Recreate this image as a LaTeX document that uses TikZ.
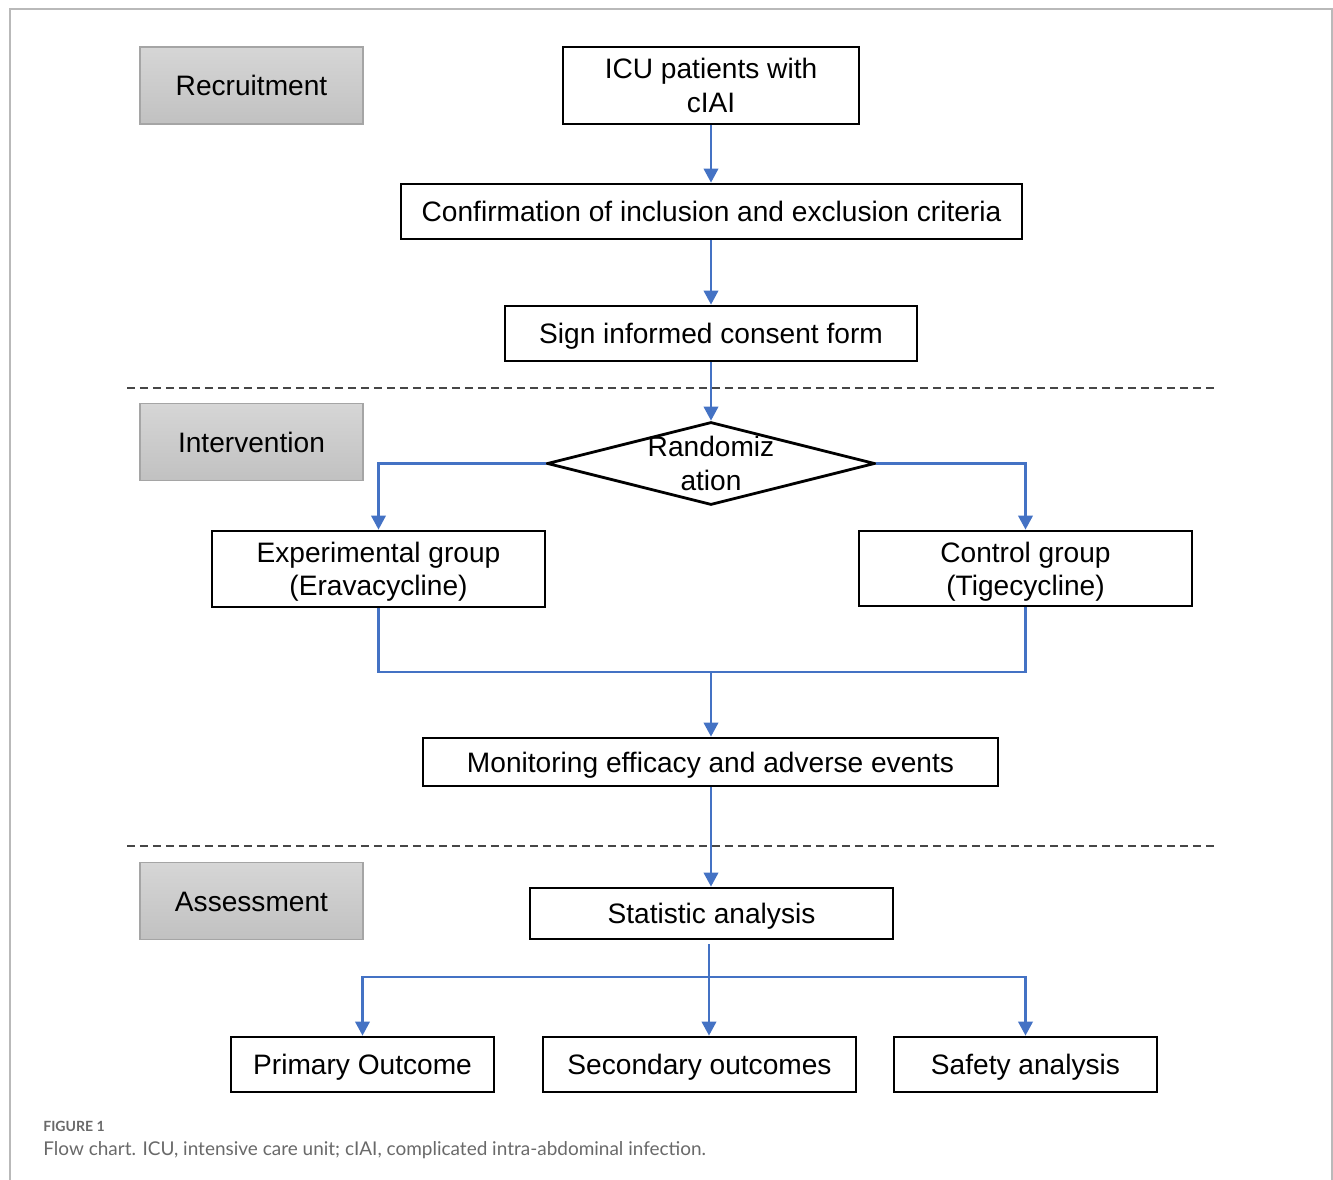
\documentclass[tikz,border=0pt]{standalone}
\usepackage{fontspec}
\setmainfont{Liberation Sans}
\newfontfamily\capfont{Lato}
\usepackage{tikz}
\usetikzlibrary{
  arrows.meta,
  positioning,
  calc,
  shapes.geometric
}
\definecolor{FlowBlue}{RGB}{68,114,196}
\definecolor{StageTop}{RGB}{214,214,214}
\definecolor{StageBottom}{RGB}{193,193,193}
\definecolor{StageEdge}{RGB}{165,165,165}
\definecolor{FrameGray}{RGB}{185,185,185}
\definecolor{CaptionGray}{RGB}{105,105,105}
\definecolor{DashGray}{RGB}{70,70,70}
\tikzset{
  stagebox/.style={
    draw=StageEdge,
    line width=0.8pt,
    top color=StageTop,
    bottom color=StageBottom,
    minimum width=4.46cm,
    minimum height=1.54cm,
    text height=11.5pt,
    text depth=0pt,
    font=\fontsize{16}{19}\selectfont
  },
  procbox/.style={
    draw=black,
    line width=1.6pt,
    fill=white,
    align=center,
    inner sep=0pt,
    font=\fontsize{16}{19}\selectfont
  },
  oneline/.style={text height=11.5pt,text depth=0pt},
  decision/.style={diamond,draw=black,line width=1.6pt,inner sep=0pt},
  flow/.style={-{Triangle[length=2.8mm,width=2.9mm]},line width=1.3pt,draw=FlowBlue},
  flowline/.style={line width=1.3pt,draw=FlowBlue},
  sepline/.style={dash pattern=on 1.6mm off 1mm,line width=0.8pt,draw=DashGray}
}

\begin{document}
\begin{tikzpicture}[x=0.02cm,y=-0.02cm]
  \useasboundingbox (0,0) rectangle (1333,1180);
  \draw[FrameGray,line width=1pt] (10,1180) -- (10,9) -- (1332,9) -- (1332,1180);

  % stage labels
  \node[stagebox] (recruit) at (251.5,85.5) {Recruitment};
  \node[stagebox] (interv) at (251.5,442) {Intervention};
  \node[stagebox] (assess) at (251.5,901) {Assessment};

  % recruitment
  \node[procbox, minimum width=5.92cm, minimum height=1.54cm] (icu) at (711,85.5) {ICU patients with\\cIAI};
  \node[procbox, oneline, minimum width=12.42cm, minimum height=1.1cm] (confirm) at (711.5,211.5) {Confirmation of inclusion and exclusion criteria};
  \node[procbox, oneline, minimum width=8.24cm, minimum height=1.1cm] (consent) at (711,333.5) {Sign informed consent form};

  \draw[sepline] (127,388) -- (1215,388);

  % intervention
  \node[decision, minimum width=6.56cm, minimum height=1.66cm] (rand) at (711,463.5) {};
  \node[font=\fontsize{16}{19}\selectfont, align=center] (randtext) at (rand.center) {Randomiz\\ation};
  \node[procbox, minimum width=6.66cm, minimum height=1.52cm] (exper) at (378.5,569) {Experimental group\\\smash{(Eravacycline)}};
  \node[procbox, minimum width=6.66cm, minimum height=1.5cm] (control) at (1025.5,568.5) {Control group\\\smash{(Tigecycline)}};
  \coordinate (join) at (711,672);
  \node[procbox, oneline, minimum width=11.5cm, minimum height=0.96cm] (monitor) at (710.5,762) {Monitoring efficacy and adverse events};

  \draw[sepline] (127,846) -- (1215,846);

  % assessment
  \node[procbox, oneline, minimum width=7.26cm, minimum height=1.02cm] (stats) at (711.5,913.5) {Statistic analysis};
  \coordinate (split) at (709,977);
  \node[procbox, oneline, minimum width=5.26cm, minimum height=1.1cm] (primary) at (362.5,1064.5) {Primary Outcome};
  \node[procbox, oneline, minimum width=6.26cm, minimum height=1.1cm] (secondary) at (699.5,1064.5) {Secondary outcomes};
  \node[procbox, oneline, minimum width=5.26cm, minimum height=1.1cm] (safety) at (1025.5,1064.5) {Safety analysis};

  \draw[flow] (icu.south) -- (confirm.north -| icu.south);
  \draw[flow] (confirm.south -| icu.south) -- (consent.north);
  \draw[flow] (consent.south) -- (rand.north);
  \draw[flow] (rand.west) -| (exper.north);
  \draw[flow] (rand.east) -| (control.north);
  \draw[flowline] (exper.south) |- (join);
  \draw[flowline] (control.south) |- (join);
  \draw[flow] (join) -- (monitor.north -| join);
  \draw[flow] (monitor.south -| join) -- (stats.north -| join);
  \draw[flowline] ($(stats.south -| split)+(0,4)$) -- (split);
  \draw[flow] (split) -| (primary.north);
  \draw[flow] (split) -- (split |- secondary.north);
  \draw[flow] (split) -| (safety.north);

  % caption
  \node[anchor=base west, inner sep=0pt, text=CaptionGray, font=\capfont\bfseries\fontsize{8}{10}\selectfont] (figno) at (43,1131) {FIGURE 1};
  \node[anchor=base west, inner sep=0pt, text=CaptionGray, font=\capfont\fontsize{10.8}{13}\selectfont] (caption) at (43,1155) {Flow chart. ICU, intensive care unit; cIAI, complicated intra-abdominal infection.};
\end{tikzpicture}
\end{document}
